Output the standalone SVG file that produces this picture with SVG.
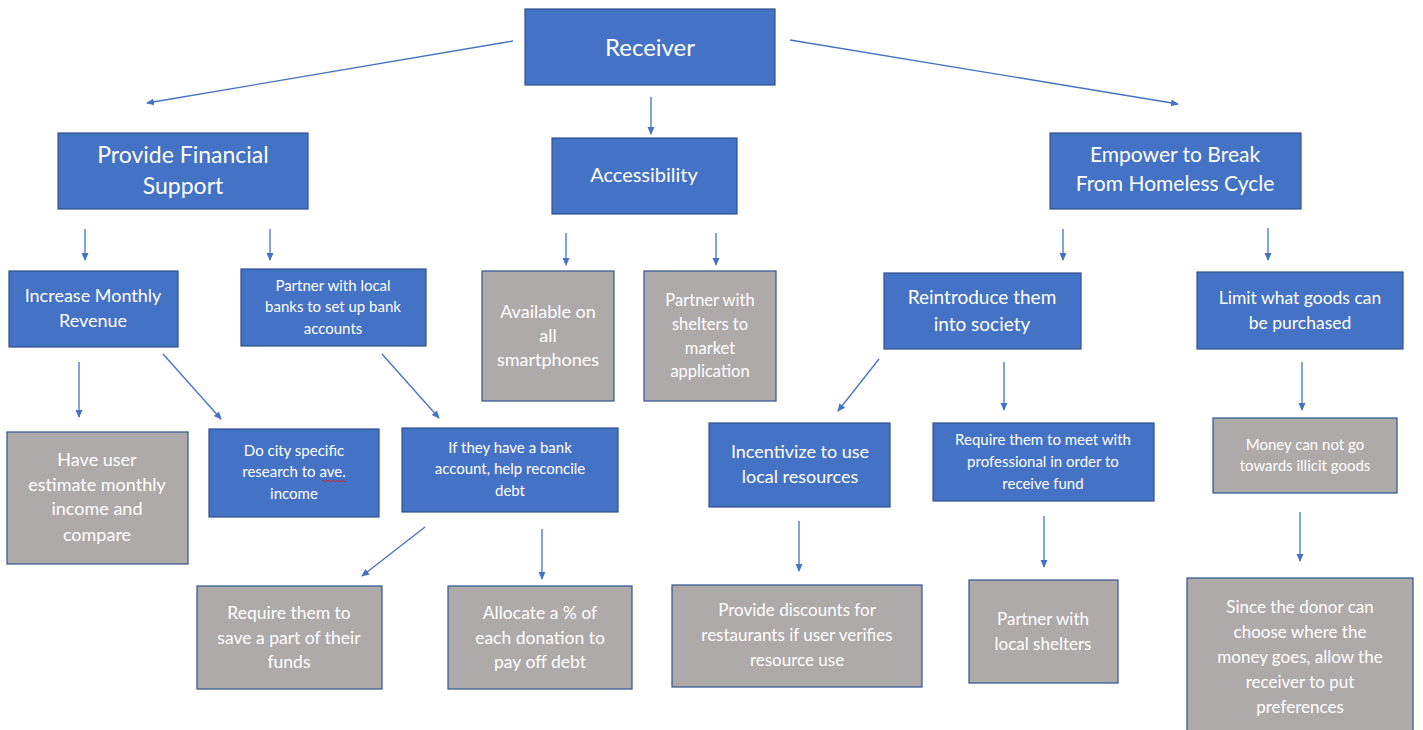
<svg xmlns="http://www.w3.org/2000/svg" width="1423" height="730" viewBox="0 0 1423 730">
<defs>
<marker id="ah" markerWidth="8" markerHeight="8" refX="7" refY="4" orient="auto" markerUnits="userSpaceOnUse">
<path d="M0,0.5 L8,4 L0,7.5 Z" fill="#4472C4"/>
</marker>
<style>
.b{fill:#4472C4;stroke:#2F528F;stroke-width:1.2}
.g{fill:#AEAAAA;stroke:#2F528F;stroke-width:1.2}
text{font-family:Lato,"Liberation Sans",sans-serif;fill:#fff;text-anchor:middle}
.c line{stroke:#4472C4;stroke-width:1.3;marker-end:url(#ah)}
</style>
</defs>
<rect width="1423" height="730" fill="#fff"/>
<g class="c" id="connectors">
<line x1="513" y1="41" x2="147" y2="103"/>
<line x1="790" y1="40" x2="1178" y2="104"/>
<line x1="651" y1="97" x2="651" y2="134"/>
<line x1="85" y1="229" x2="85" y2="260"/>
<line x1="270" y1="229" x2="270" y2="260"/>
<line x1="566" y1="233" x2="566" y2="265"/>
<line x1="716" y1="233" x2="716" y2="265"/>
<line x1="1063" y1="229" x2="1063" y2="260"/>
<line x1="1268" y1="228" x2="1268" y2="260"/>
<line x1="79" y1="362" x2="79" y2="417"/>
<line x1="163" y1="354" x2="221" y2="419"/>
<line x1="382" y1="354" x2="439" y2="418"/>
<line x1="879" y1="359" x2="838" y2="411"/>
<line x1="1004" y1="362" x2="1004" y2="410"/>
<line x1="1302" y1="362" x2="1302" y2="410"/>
<line x1="425" y1="527" x2="362" y2="576"/>
<line x1="542" y1="529" x2="542" y2="579"/>
<line x1="799" y1="521" x2="799" y2="571"/>
<line x1="1044" y1="516" x2="1044" y2="567"/>
<line x1="1300" y1="512" x2="1300" y2="561"/>
</g>
<g id="receiver"><rect class="b" x="525" y="9" width="250" height="76"/><text x="650" y="56" font-size="24">Receiver</text></g>
<g id="financial"><rect class="b" x="58" y="133" width="250" height="76"/><text x="183" y="163" font-size="23">Provide Financial</text><text x="183" y="194" font-size="23">Support</text></g>
<g id="accessibility"><rect class="b" x="552" y="138" width="185" height="76"/><text x="644" y="182" font-size="20">Accessibility</text></g>
<g id="empower"><rect class="b" x="1050" y="133" width="251" height="76"/><text x="1175" y="162" font-size="21">Empower to Break</text><text x="1175" y="191" font-size="21">From Homeless Cycle</text></g>
<g id="increase"><rect class="b" x="9" y="271" width="169" height="76"/><text x="93" y="302" font-size="18">Increase Monthly</text><text x="93" y="327" font-size="18">Revenue</text></g>
<g id="banks"><rect class="b" x="241" y="269" width="185" height="77"/><text x="333" y="291" font-size="15">Partner with local</text><text x="333" y="312" font-size="15">banks to set up bank</text><text x="333" y="334" font-size="15">accounts</text></g>
<g id="smartphones"><rect class="g" x="482" y="271" width="132" height="130"/><text x="548" y="318" font-size="18">Available on</text><text x="548" y="342" font-size="18">all</text><text x="548" y="366" font-size="18">smartphones</text></g>
<g id="shelters-market"><rect class="g" x="644" y="271" width="132" height="130"/><text x="710" y="306" font-size="16.5">Partner with</text><text x="710" y="330" font-size="16.5">shelters to</text><text x="710" y="354" font-size="16.5">market</text><text x="710" y="377" font-size="16.5">application</text></g>
<g id="reintroduce"><rect class="b" x="884" y="273" width="197" height="76"/><text x="982" y="304" font-size="19">Reintroduce them</text><text x="982" y="331" font-size="19">into society</text></g>
<g id="limit"><rect class="b" x="1197" y="272" width="206" height="77"/><text x="1300" y="304" font-size="17.5">Limit what goods can</text><text x="1300" y="329" font-size="17.5">be purchased</text></g>
<g id="estimate"><rect class="g" x="7" y="432" width="181" height="132"/><text x="97" y="466" font-size="18">Have user</text><text x="97" y="491" font-size="18">estimate monthly</text><text x="97" y="515" font-size="18">income and</text><text x="97" y="541" font-size="18">compare</text></g>
<g id="research"><rect class="b" x="209" y="429" width="170" height="88"/><text x="294" y="456" font-size="15">Do city specific</text><text x="294" y="477" font-size="15">research to ave.</text><text x="294" y="499" font-size="15">income</text><path d="M322,481 q1.2,-1.5 2.4,0 t2.4,0 t2.4,0 t2.4,0 t2.4,0 t2.4,0 t2.4,0 t2.4,0 t2.4,0 t2.4,0" fill="none" stroke="#E02020" stroke-width="1"/></g>
<g id="debt"><rect class="b" x="402" y="428" width="216" height="84"/><text x="510" y="453" font-size="15">If they have a bank</text><text x="510" y="474" font-size="15">account, help reconcile</text><text x="510" y="496" font-size="15">debt</text></g>
<g id="incentivize"><rect class="b" x="709" y="423" width="181" height="84"/><text x="800" y="458" font-size="18">Incentivize to use</text><text x="800" y="483" font-size="18">local resources</text></g>
<g id="professional"><rect class="b" x="933" y="423" width="221" height="78"/><text x="1043" y="445" font-size="15">Require them to meet with</text><text x="1043" y="467" font-size="15">professional in order to</text><text x="1043" y="489" font-size="15">receive fund</text></g>
<g id="illicit"><rect class="g" x="1213" y="418" width="184" height="75"/><text x="1305" y="450" font-size="15">Money can not go</text><text x="1305" y="471" font-size="15">towards illicit goods</text></g>
<g id="save"><rect class="g" x="197" y="586" width="185" height="103"/><text x="289" y="619" font-size="17.5">Require them to</text><text x="289" y="644" font-size="17.5">save a part of their</text><text x="289" y="668" font-size="17.5">funds</text></g>
<g id="allocate"><rect class="g" x="448" y="586" width="184" height="103"/><text x="540" y="619" font-size="17.5">Allocate a % of</text><text x="540" y="644" font-size="17.5">each donation to</text><text x="540" y="668" font-size="17.5">pay off debt</text></g>
<g id="discounts"><rect class="g" x="672" y="585" width="250" height="102"/><text x="797" y="616" font-size="17">Provide discounts for</text><text x="797" y="641" font-size="17">restaurants if user verifies</text><text x="797" y="666" font-size="17">resource use</text></g>
<g id="local-shelters"><rect class="g" x="969" y="580" width="149" height="103"/><text x="1043" y="625" font-size="17">Partner with</text><text x="1043" y="650" font-size="17">local shelters</text></g>
<g id="preferences"><rect class="g" x="1187" y="578" width="226" height="160"/><text x="1300" y="613" font-size="17">Since the donor can</text><text x="1300" y="638" font-size="17">choose where the</text><text x="1300" y="663" font-size="17">money goes, allow the</text><text x="1300" y="688" font-size="17">receiver to put</text><text x="1300" y="713" font-size="17">preferences</text></g>
</svg>
